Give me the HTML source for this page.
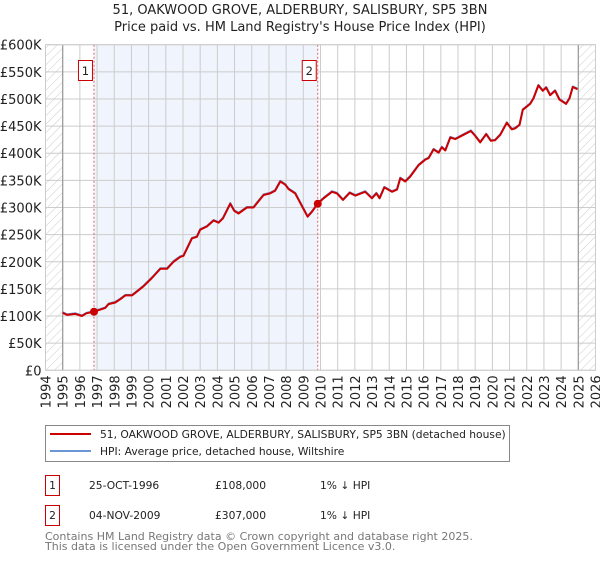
<!DOCTYPE html>
<html><head><meta charset="utf-8"><style>
body{margin:0;background:#fff;font-family:"DejaVu Sans","Liberation Sans",sans-serif}
svg text{font-family:"DejaVu Sans","Liberation Sans",sans-serif}
</style></head><body>
<svg id="chart" width="600" height="560" viewBox="0 0 600 560" xmlns="http://www.w3.org/2000/svg">
<defs>
<pattern id="hatch" width="6" height="6" patternUnits="userSpaceOnUse" patternTransform="rotate(45)">
<line x1="0" y1="0" x2="0" y2="6" stroke="#ccc" stroke-width="1"/></pattern>
</defs>
<text x="300" y="14" text-anchor="middle" font-size="13" fill="#222">51, OAKWOOD GROVE, ALDERBURY, SALISBURY, SP5 3BN</text>
<text x="300" y="31" text-anchor="middle" font-size="13" fill="#222">Price paid vs. HM Land Registry's House Price Index (HPI)</text>
<g id="plot"></g>
<g>
<rect x="45.5" y="425.5" width="464" height="36" fill="#fff" stroke="#888"/>
<line x1="50" y1="434" x2="91" y2="434" stroke="#cc0000" stroke-width="2"/>
<text x="100" y="438" font-size="10.7" fill="#222">51, OAKWOOD GROVE, ALDERBURY, SALISBURY, SP5 3BN (detached house)</text>
<line x1="50" y1="451" x2="91" y2="451" stroke="#6a97d6" stroke-width="2"/>
<text x="100" y="455" font-size="10.7" fill="#222">HPI: Average price, detached house, Wiltshire</text>
</g>
<g>
<rect x="45.5" y="475.5" width="14" height="20" fill="#fff" stroke="#cc0000"/>
<text x="52.5" y="489" text-anchor="middle" font-size="10.7" fill="#222">1</text>
<text x="89" y="489" font-size="10.7" fill="#222">25-OCT-1996</text>
<text x="215" y="489" font-size="10.7" fill="#222">£108,000</text>
<text x="320" y="489" font-size="10.7" fill="#222">1% ↓ HPI</text>
<rect x="45.5" y="505.5" width="14" height="20" fill="#fff" stroke="#cc0000"/>
<text x="52.5" y="519" text-anchor="middle" font-size="10.7" fill="#222">2</text>
<text x="89" y="519" font-size="10.7" fill="#222">04-NOV-2009</text>
<text x="215" y="519" font-size="10.7" fill="#222">£307,000</text>
<text x="320" y="519" font-size="10.7" fill="#222">1% ↓ HPI</text>
</g>
<text x="45" y="540" font-size="11" fill="#777">Contains HM Land Registry data © Crown copyright and database right 2025.</text>
<text x="45" y="550" font-size="11" fill="#777">This data is licensed under the Open Government Licence v3.0.</text>
</svg>
<script>
const years=[1995.0,1995.25,1995.74,1996.12,1996.38,1996.82,1997.48,1997.67,1998.06,1998.35,1998.64,1999.03,1999.32,1999.71,2000.19,2000.68,2001.07,2001.45,2001.84,2002.03,2002.52,2002.81,2003.0,2003.39,2003.78,2004.07,2004.32,2004.75,2004.98,2005.23,2005.72,2006.1,2006.3,2006.69,2007.07,2007.36,2007.66,2007.95,2008.14,2008.53,2008.83,2009.25,2009.5,2009.84,2010.18,2010.67,2010.96,2011.31,2011.7,2012.03,2012.6,2012.99,2013.25,2013.44,2013.71,2014.16,2014.45,2014.64,2014.93,2015.22,2015.71,2016.09,2016.29,2016.58,2016.87,2017.06,2017.26,2017.55,2017.84,2018.32,2018.75,2019.0,2019.29,2019.64,2019.91,2020.16,2020.46,2020.84,2021.13,2021.33,2021.58,2021.77,2022.2,2022.39,2022.68,2022.93,2023.13,2023.36,2023.65,2023.9,2024.29,2024.49,2024.68,2024.95];
const priceK=[106,102,104,100,105,108,115,122,125,131,138,138,145,155,170,187,187,200,209,211,243,246,259,265,276,272,280,307,294,289,300,300,308,323,326,331,348,342,334,326,308,283,292,307,317,329,326,314,327,322,329,317,326,317,337,329,333,354,348,357,378,388,391,407,401,411,405,429,426,434,441,432,420,435,423,424,434,456,444,446,452,480,491,501,525,515,521,507,515,499,491,501,522,518];
const hpiK=[107,103,105,101,106,109,116,123,126,132,139,139,146,156,171,188,188,201,210,212,244,247,260,266,277,273,281,308,295,290,301,301,309,324,327,332,349,343,335,327,309,284,293,308,318,330,327,315,328,323,330,318,327,318,338,330,334,355,349,358,379,389,392,408,402,412,406,430,427,435,442,433,421,436,424,425,435,457,445,447,453,481,492,502,526,516,522,508,516,500,492,502,523,519];
const yTicks=[0,50,100,150,200,250,300,350,400,450,500,550,600];
const yTickLabels=["£0","£50K","£100K","£150K","£200K","£250K","£300K","£350K","£400K","£450K","£500K","£550K","£600K"];
const xTicks=[1994,1995,1996,1997,1998,1999,2000,2001,2002,2003,2004,2005,2006,2007,2008,2009,2010,2011,2012,2013,2014,2015,2016,2017,2018,2019,2020,2021,2022,2023,2024,2025,2026];
const saleYears=[1996.82,2009.84];
const saleValues=[108,307];
const saleLabels=["1","2"];
const NS="http://www.w3.org/2000/svg";
const X0=45.5,X1=595.5,Y0=370.3,Y1=44.7;
const xs=y=>X0+(y-1994)*(X1-X0)/32;
const ys=v=>Y0-v*(Y0-Y1)/600;
const g=document.getElementById('plot');
function mk(t,a,p){const e=document.createElementNS(NS,t);for(const k in a)e.setAttribute(k,a[k]);(p||g).appendChild(e);return e;}
let e;
e=mk('rect',{x:X0,y:Y1,width:X1-X0,height:Y0-Y1,fill:'#fff'});


e=mk('rect',{x:xs(saleYears[0]),y:Y1,width:xs(saleYears[1])-xs(saleYears[0]),height:Y0-Y1,fill:'#f0f4fd'});


e=mk('rect',{x:X0,y:Y1,width:xs(1995)-X0,height:Y0-Y1,fill:'url(#hatch)'});


e=mk('rect',{x:xs(2025),y:Y1,width:X1-xs(2025),height:Y0-Y1,fill:'url(#hatch)'});


yTicks.forEach((v,i)=>{
 const l=mk('line',{x1:X0,x2:X1,y1:ys(v),y2:ys(v),stroke:'#ccc','stroke-width':1});
 
 
 const t=mk('text',{x:X0-4,y:ys(v)+5,'text-anchor':'end','font-size':13,fill:'#222'});
 t.textContent=yTickLabels[i];
 
 
});
xTicks.forEach(y=>{
 const l=mk('line',{x1:xs(y),x2:xs(y),y1:Y1,y2:Y0,stroke:'#ccc','stroke-width':1});
 
 
 const t=mk('text',{x:0,y:0,'text-anchor':'end','font-size':13,fill:'#222',transform:`translate(${xs(y)+5},${Y0+5}) rotate(-90)`});
 t.textContent=y;
 
 
});
e=mk('line',{x1:xs(1995),x2:xs(1995),y1:Y1,y2:Y0,stroke:'#999','stroke-width':1.2});


e=mk('line',{x1:xs(2025),x2:xs(2025),y1:Y1,y2:Y0,stroke:'#999','stroke-width':1.2});


saleYears.forEach((y,i)=>{
 const l=mk('line',{x1:xs(y),x2:xs(y),y1:Y1,y2:Y0,stroke:'#e06060','stroke-width':1,'stroke-dasharray':'2,2'});
 
 
 const r=mk('rect',{x:xs(y)-15.5,y:60.5,width:14,height:20,fill:'#fff',stroke:'#cc0000'});
 
 
 const t=mk('text',{x:xs(y)-8.5,y:75,'text-anchor':'middle','font-size':11.5,fill:'#222'});
 t.textContent=saleLabels[i];
 
 
});
e=mk('rect',{x:X0,y:Y1,width:X1-X0,height:Y0-Y1,fill:'none',stroke:'#ccc'});


const pts=a=>years.map((y,i)=>xs(y).toFixed(1)+','+ys(a[i]).toFixed(1)).join(' ');
e=mk('polyline',{points:pts(hpiK),fill:'none',stroke:'#6a97d6','stroke-width':2,'stroke-linejoin':'round'});


e=mk('polyline',{points:pts(priceK),fill:'none',stroke:'#cc0000','stroke-width':2,'stroke-linejoin':'round'});


saleYears.forEach((y,i)=>{
 const c=mk('circle',{cx:xs(y),cy:ys(saleValues[i]),r:4,fill:'#cc0000'});
 
 
});
</script>
</body></html>
